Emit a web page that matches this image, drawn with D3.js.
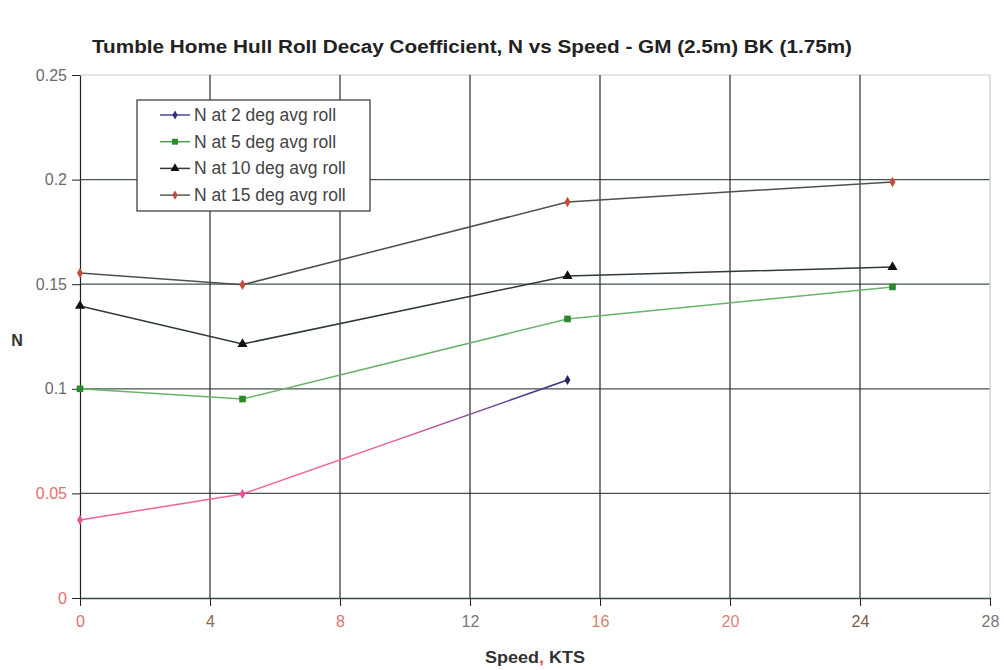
<!DOCTYPE html>
<html>
<head>
<meta charset="utf-8">
<script src="https://cdn.jsdelivr.net/npm/d3@7"></script>
<style>
  html, body { margin: 0; padding: 0; background: #fff; }
  svg { display: block; font-family: "Liberation Sans", Arial, sans-serif; }
</style>
</head>
<body>
<svg id="chart" width="1004" height="670"></svg>
<script>
// Roll decay coefficient N against ship speed, one series per average roll angle
const speeds = [0, 5, 15, 25];
const n2deg  = [0.0373, 0.0497, 0.1042];
const n5deg  = [0.1000, 0.0951, 0.1334, 0.1487];
const n10deg = [0.1396, 0.1214, 0.1539, 0.1582];
const n15deg = [0.1554, 0.1497, 0.1893, 0.1989];

const seriesNames = [
  "N at 2 deg avg roll",
  "N at 5 deg avg roll",
  "N at 10 deg avg roll",
  "N at 15 deg avg roll"
];
const xTicks = [0, 4, 8, 12, 16, 20, 24, 28];
const yTicks = [0, 0.05, 0.1, 0.15, 0.2, 0.25];

const svg = d3.select("#chart");
const x = d3.scaleLinear().domain([0, 28]).range([80, 990]);
const y = d3.scaleLinear().domain([0, 0.25]).range([598, 75]);

// gradient for the 2 deg trace (pink fading into navy at the last point)
const defs = svg.append("defs");
const grad = defs.append("linearGradient")
  .attr("id", "g2deg").attr("gradientUnits", "userSpaceOnUse")
  .attr("x1", x(0)).attr("x2", x(15)).attr("y1", 0).attr("y2", 0);
grad.append("stop").attr("offset", "0.62").attr("stop-color", "#f2609c");
grad.append("stop").attr("offset", "0.85").attr("stop-color", "#6a4a9a");
grad.append("stop").attr("offset", "1").attr("stop-color", "#2c2c80");

// title
svg.append("text")
  .attr("x", 472).attr("y", 53)
  .attr("text-anchor", "middle")
  .attr("font-size", 18).attr("font-weight", "bold").attr("fill", "#222")
  .attr("textLength", 760).attr("lengthAdjust", "spacingAndGlyphs")
  .text("Tumble Home Hull Roll Decay Coefficient, N vs Speed - GM (2.5m) BK (1.75m)");

// grid
const grid = svg.append("g");
grid.selectAll(".hg").data(yTicks.filter(d => d > 0)).join("line")
  .attr("x1", x(0)).attr("x2", x(28))
  .attr("y1", d => y(d)).attr("y2", d => y(d))
  .attr("stroke", d => d === 0.25 ? "#c8ccca" : "#46544c").attr("stroke-width", 1.2);
grid.selectAll(".vg").data(xTicks.filter(d => d > 0 && d < 28)).join("line")
  .attr("x1", d => x(d)).attr("x2", d => x(d))
  .attr("y1", y(0.25)).attr("y2", y(0))
  .attr("stroke", "#2a2a2a").attr("stroke-width", 1.2);
// right edge of plot area
grid.append("line")
  .attr("x1", x(28)).attr("x2", x(28)).attr("y1", y(0.25)).attr("y2", y(0))
  .attr("stroke", "#c8c8c8").attr("stroke-width", 1.2);

// axes
const tickColorX = d => ({0: "#e07070", 4: "#8a6a50", 8: "#e07070", 12: "#777", 16: "#d88070", 20: "#e08080", 24: "#7a5a48", 28: "#777"})[d];
const tickColorY = d => d <= 0.05 ? "#e07070" : "#6a6a6a";

const xAxis = svg.append("g").attr("transform", `translate(0,${y(0)})`)
  .call(d3.axisBottom(x).tickValues(xTicks).tickSize(8).tickPadding(10).tickSizeOuter(0).tickFormat(d3.format("d")));
xAxis.select(".domain").attr("stroke", "#3a4a42").attr("stroke-width", 1.6);
xAxis.selectAll(".tick line").attr("stroke", "#222");
xAxis.selectAll(".tick text").attr("font-size", 16).attr("font-family", "Liberation Sans, Arial, sans-serif")
  .attr("fill", d => tickColorX(d));

const yAxis = svg.append("g").attr("transform", `translate(${x(0)},0)`)
  .call(d3.axisLeft(y).tickValues(yTicks).tickSize(8).tickPadding(5).tickSizeOuter(0).tickFormat(d => d3.format("")(+d.toFixed(2))));
yAxis.select(".domain").attr("stroke", "#222").attr("stroke-width", 1.2);
yAxis.selectAll(".tick line").attr("stroke", "#222");
yAxis.selectAll(".tick text").attr("font-size", 16).attr("font-family", "Liberation Sans, Arial, sans-serif")
  .attr("fill", d => tickColorY(d));

// axis titles
svg.append("text").attr("x", 17).attr("y", 346).attr("text-anchor", "middle")
  .attr("font-size", 16).attr("font-weight", "bold").attr("fill", "#333").text("N");
const xt = svg.append("text").attr("x", 535).attr("y", 663).attr("text-anchor", "middle")
  .attr("font-size", 16).attr("font-weight", "bold").attr("fill", "#333")
  .attr("textLength", 100).attr("lengthAdjust", "spacingAndGlyphs");
xt.append("tspan").text("Speed");
xt.append("tspan").attr("fill", "#d06030").text(",");
xt.append("tspan").text(" KTS");

// series definitions
const series = [
  { name: seriesNames[0], vals: n2deg,  line: "url(#g2deg)", legendLine: "#4a4a9a", marker: "diamond", mcol: ["#f0509a", "#f0509a", "#222266"], legendMarker: "#303080", size: 30 },
  { name: seriesNames[1], vals: n5deg,  line: "#6ab46a", legendLine: "#4aa04a", marker: "square",  mcol: "#2a8a2a", legendMarker: "#2a8a2a", size: 44 },
  { name: seriesNames[2], vals: n10deg, line: "#2e3a34", legendLine: "#2e3a34", marker: "triangle", mcol: "#111", legendMarker: "#111", size: 44 },
  { name: seriesNames[3], vals: n15deg, line: "#4a524e", legendLine: "#5a5a5a", marker: "diamond", mcol: "#c84a3a", legendMarker: "#c84a3a", size: 32 }
];
const symType = { diamond: d3.symbolDiamond, square: d3.symbolSquare, triangle: d3.symbolTriangle };

const lineGen = d3.line().x(d => x(d[0])).y(d => y(d[1]));
const plot = svg.append("g");
series.slice().reverse().forEach(s => {
  const pts = s.vals.map((v, i) => [speeds[i], v]);
  plot.append("path").datum(pts)
    .attr("d", lineGen).attr("fill", "none")
    .attr("stroke", s.line).attr("stroke-width", 1.5);
  plot.selectAll(null).data(pts).join("path")
    .attr("transform", d => `translate(${x(d[0])},${y(d[1])})`)
    .attr("d", d3.symbol().type(symType[s.marker]).size(s.size))
    .attr("fill", (d, i) => Array.isArray(s.mcol) ? s.mcol[i] : s.mcol);
});

// legend
const lg = svg.append("g").attr("transform", "translate(137,100)");
lg.append("rect").attr("width", 233).attr("height", 111)
  .attr("fill", "#fff").attr("stroke", "#333").attr("stroke-width", 1.2);
series.forEach((s, i) => {
  const row = lg.append("g").attr("transform", `translate(0,${15 + i * 26.7})`);
  row.append("line").attr("x1", 23).attr("x2", 53).attr("y1", 0).attr("y2", 0)
    .attr("stroke", s.legendLine).attr("stroke-width", 1.5);
  row.append("path").attr("transform", "translate(38,0)")
    .attr("d", d3.symbol().type(symType[s.marker]).size(s.size * 0.8))
    .attr("fill", s.legendMarker);
  row.append("text").attr("x", 57).attr("y", 6)
    .attr("font-size", 17.5).attr("fill", "#444").text(s.name);
});
</script>
</body>
</html>
